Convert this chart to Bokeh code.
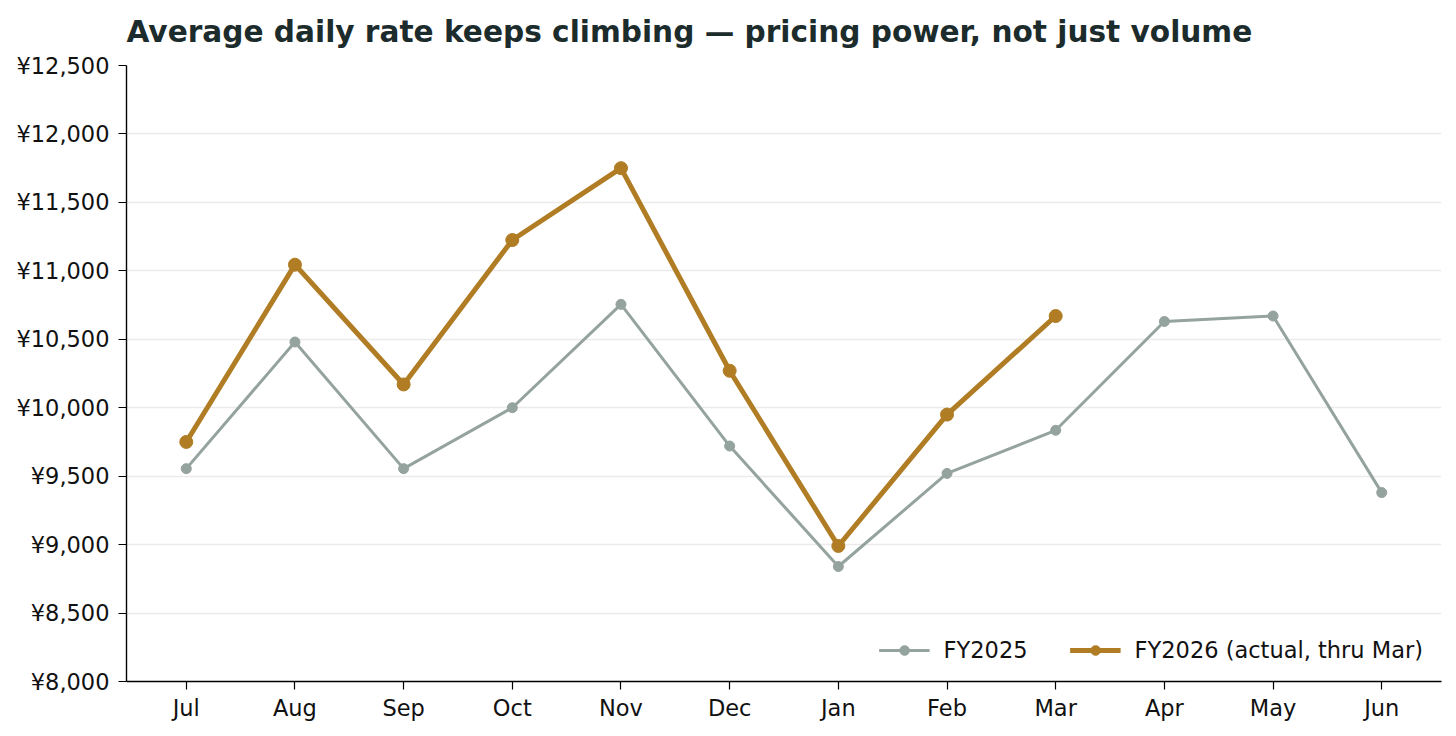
from bokeh.plotting import figure
from bokeh.models import FactorRange, Range1d, FixedTicker, Legend, LegendItem
from bokeh.embed import file_html
from bokeh.resources import INLINE

months = ["Jul", "Aug", "Sep", "Oct", "Nov", "Dec", "Jan", "Feb", "Mar", "Apr", "May", "Jun"]
fy2025 = [9555, 10480, 9555, 10000, 10755, 9720, 8840, 9520, 9835, 10630, 10670, 9380]
fy2026 = [9750, 11045, 10170, 11225, 11750, 10270, 8990, 9950, 10670]
fy2026_months = months[:len(fy2026)]
y_ticks = [8000, 8500, 9000, 9500, 10000, 10500, 11000, 11500, 12000, 12500]

GREY = "#95a39f"
GOLD = "#b07c24"
FONT = "DejaVu Sans"

p = figure(width=1448, height=728, output_backend="svg", toolbar_location=None,
           x_range=FactorRange(*months, range_padding=0.05, range_padding_units="absolute"),
           y_range=Range1d(8000, 12500),
           min_border_left=126, min_border_right=7, min_border_top=65, min_border_bottom=47)

p.title.text = "Average daily rate keeps climbing \u2014 pricing power, not just volume"
p.title.text_font = FONT
p.title.text_font_size = "29.6px"
p.title.text_font_style = "bold"
p.title.text_color = "#1c2b2b"
p.title.align = "left"
p.title.vertical_align = "top"
p.title.standoff = 29

p.outline_line_color = None
p.background_fill_color = "white"
p.border_fill_color = "white"

# grid: horizontal only
p.xgrid.grid_line_color = None
p.ygrid.grid_line_color = "#ebebeb"
p.ygrid.grid_line_width = 1.3

p.yaxis.ticker = FixedTicker(ticks=y_ticks)
p.yaxis.major_label_overrides = {t: "\u00a5{:,}".format(t) for t in y_ticks}

for ax in (p.xaxis, p.yaxis):
    ax.axis_line_color = "black"
    ax.axis_line_width = 1.4
    ax.major_tick_line_color = "black"
    ax.major_tick_line_width = 1.2
    ax.major_tick_in = 0
    ax.major_tick_out = 8
    ax.minor_tick_line_color = None
    ax.major_label_text_font = FONT
    ax.major_label_text_font_size = "22.5px"
    ax.major_label_text_color = "#111111"
p.yaxis.major_label_standoff = 9
p.xaxis.major_label_standoff = 5

l1 = p.line(months, fy2025, line_color=GREY, line_width=3)
s1 = p.scatter(months, fy2025, size=10, fill_color=GREY, line_color=GREY)
l2 = p.line(fy2026_months, fy2026, line_color=GOLD, line_width=5)
s2 = p.scatter(fy2026_months, fy2026, size=13, fill_color=GOLD, line_color=GOLD)

legend = Legend(items=[LegendItem(label="FY2025", renderers=[l1, s1]),
                       LegendItem(label="FY2026 (actual, thru Mar)", renderers=[l2, s2])],
                location="bottom_right", orientation="horizontal",
                border_line_color=None, background_fill_alpha=0,
                label_text_font=FONT, label_text_font_size="22.5px", label_text_color="#111111",
                glyph_width=51, glyph_height=24, label_height=22, label_standoff=14,
                spacing=42, padding=8, margin=18)
p.add_layout(legend, "center")

open("out.html", "w").write(file_html(p, INLINE))
